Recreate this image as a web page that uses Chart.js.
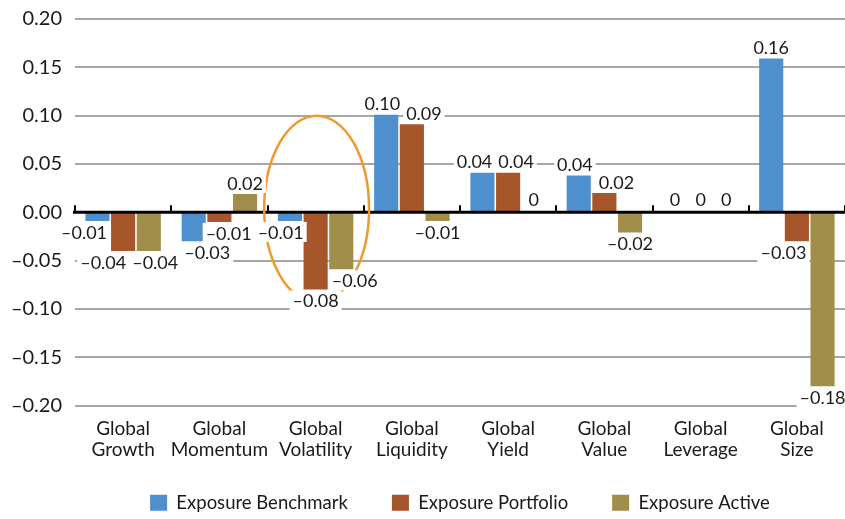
<!DOCTYPE html>
<html>
<head>
<meta charset="utf-8">
<script src="https://cdn.jsdelivr.net/npm/chart.js@4.4.0/dist/chart.umd.min.js"></script>
<style>
  html, body { margin: 0; padding: 0; background: #fff; }
  #wrap { width: 845px; height: 519px; }
</style>
</head>
<body>
<div id="wrap"><canvas id="chart"></canvas></div>
<script>
const categories = [
  ["Global", "Growth"],
  ["Global", "Momentum"],
  ["Global", "Volatility"],
  ["Global", "Liquidity"],
  ["Global", "Yield"],
  ["Global", "Value"],
  ["Global", "Leverage"],
  ["Global", "Size"],
];
const seriesNames = ["Exposure Benchmark", "Exposure Portfolio", "Exposure Active"];
const benchmark = [-0.009, -0.030, -0.009, 0.101, 0.041, 0.038, 0, 0.159];
const portfolio = [-0.040, -0.010, -0.080, 0.091, 0.041, 0.020, 0, -0.030];
const active = [-0.040, 0.019, -0.059, -0.009, 0, -0.021, 0, -0.180];
const yMin = -0.20;
const yMax = 0.20;
const yStep = 0.05;
// circled category and the value range the ring spans
const highlightIndex = 2;
const highlightRange = [-0.093, 0.10];

const colors = ["#4e8fcd", "#a7552a", "#a08e4a"];
const textColor = "#1a1a1a";
Chart.defaults.font.family = "Lato, sans-serif";

const fmt = (v) => (v === 0 ? "0" : v.toFixed(2).replace("-", "\u2013"));

// zero axis, ring and value labels
const overlay = {
  id: "overlay",
  afterLayout(chart) {
    // let the two-line category labels run below the axis box
    chart.scales.x.bottom = chart.height;
  },
  afterDatasetsDraw(chart) {
    const { ctx, scales } = chart;
    const x = scales.x;
    const y = scales.y;
    const y0 = y.getPixelForValue(0);
    const step = x.width / categories.length;
    ctx.save();

    ctx.strokeStyle = "#000";
    ctx.lineWidth = 3;
    ctx.beginPath();
    ctx.moveTo(x.left - 2, y0);
    ctx.lineTo(x.right, y0);
    ctx.stroke();
    ctx.lineWidth = 2;
    for (let i = 0; i <= categories.length; i++) {
      const px = Math.round(x.left + i * step);
      ctx.beginPath();
      ctx.moveTo(px, y0);
      ctx.lineTo(px, y0 - 7);
      ctx.stroke();
    }

    const top = y.getPixelForValue(highlightRange[1]);
    const bottom = y.getPixelForValue(highlightRange[0]);
    ctx.strokeStyle = "#ee9a2e";
    ctx.lineWidth = 2.5;
    ctx.beginPath();
    ctx.ellipse(x.getPixelForValue(highlightIndex) + 1, (top + bottom) / 2, step * 0.545, (bottom - top) / 2, 0, 0, Math.PI * 2);
    ctx.stroke();

    ctx.font = "18px Lato, sans-serif";
    const boxes = [];
    const rects = [];
    chart.data.datasets.forEach((ds, di) => {
      chart.getDatasetMeta(di).data.forEach((bar, i) => {
        const v = ds.data[i];
        const text = fmt(v);
        const w = ctx.measureText(text).width + 6;
        const cy = v > 0 ? bar.y - 11 : v < 0 ? bar.y + 11 : y0 - 13;
        boxes.push({ x: bar.x, y: cy, w, h: 20, text, bar });
        rects.push({ bar, l: bar.x - bar.width / 2, r: bar.x + bar.width / 2, t: Math.min(bar.y, bar.base), b: Math.max(bar.y, bar.base) });
      });
    });
    // keep labels off the neighbouring bars
    boxes.forEach((b) => {
      rects.forEach((r) => {
        if (r.bar === b.bar) return;
        const bt = b.y - b.h / 2;
        const bb = b.y + b.h / 2;
        if (bb <= r.t || bt >= r.b) return;
        const bl = b.x - b.w / 2;
        const br = b.x + b.w / 2;
        if (br <= r.l || bl >= r.r) return;
        if (b.x < (r.l + r.r) / 2) b.x -= br - r.l + 1;
        else b.x += r.r - bl + 1;
      });
    });
    // push apart labels that collide
    for (let pass = 0; pass < 6; pass++) {
      boxes.sort((a, b) => a.x - b.x);
      for (let i = 0; i < boxes.length; i++) {
        for (let j = i + 1; j < boxes.length; j++) {
          const a = boxes[i];
          const b = boxes[j];
          if (Math.abs(a.y - b.y) >= 18) continue;
          const overlap = (a.w + b.w) / 2 - (b.x - a.x);
          if (overlap > 0) {
            a.x -= overlap / 2;
            b.x += overlap / 2;
          }
        }
      }
    }
    ctx.textAlign = "center";
    ctx.textBaseline = "middle";
    boxes.forEach((b) => {
      ctx.fillStyle = "#fff";
      ctx.fillRect(b.x - b.w / 2, b.y - b.h / 2, b.w, b.h);
      ctx.fillStyle = textColor;
      ctx.fillText(b.text, b.x, b.y + 1);
    });
    ctx.restore();
  },
};

new Chart(document.getElementById("chart"), {
  type: "bar",
  data: {
    labels: categories,
    datasets: [
      { label: seriesNames[0], data: benchmark, backgroundColor: colors[0] },
      { label: seriesNames[1], data: portfolio, backgroundColor: colors[1] },
      { label: seriesNames[2], data: active, backgroundColor: colors[2] },
    ],
  },
  options: {
    responsive: true,
    maintainAspectRatio: false,
    animation: false,
    datasets: {
      bar: {
        categoryPercentage: 0.8,
        barPercentage: 0.94,
        borderWidth: 0,
      },
    },
    layout: {
      padding: { top: 0, right: 0, bottom: -3, left: 0 },
    },
    plugins: {
      tooltip: { enabled: false },
      legend: {
        position: "bottom",
        fullSize: false,
        labels: {
          boxWidth: 17,
          boxHeight: 16,
          padding: 44,
          color: textColor,
          font: { size: 18.5 },
        },
      },
    },
    scales: {
      x: {
        grid: { display: false },
        border: { display: false },
        ticks: {
          color: textColor,
          padding: 4,
          maxRotation: 0,
          autoSkip: false,
          font: { size: 19, lineHeight: 1.15 },
        },
        afterFit(scale) {
          scale.height = 44;
        },
      },
      y: {
        min: yMin,
        max: yMax,
        border: { display: false },
        grid: {
          drawTicks: true,
          tickLength: 6,
          tickColor: "rgba(0,0,0,0)",
          lineWidth: 2,
          color: (c) => (Math.abs(c.tick.value) < 1e-9 ? "rgba(0,0,0,0)" : "#a6a6a6"),
        },
        ticks: {
          stepSize: yStep,
          padding: 7,
          color: textColor,
          font: { size: 20 },
          callback: (v) => v.toFixed(2).replace("-", "\u2013"),
        },
        afterFit(scale) {
          scale.width = 75;
        },
      },
    },
  },
  plugins: [overlay],
});
</script>
</body>
</html>
